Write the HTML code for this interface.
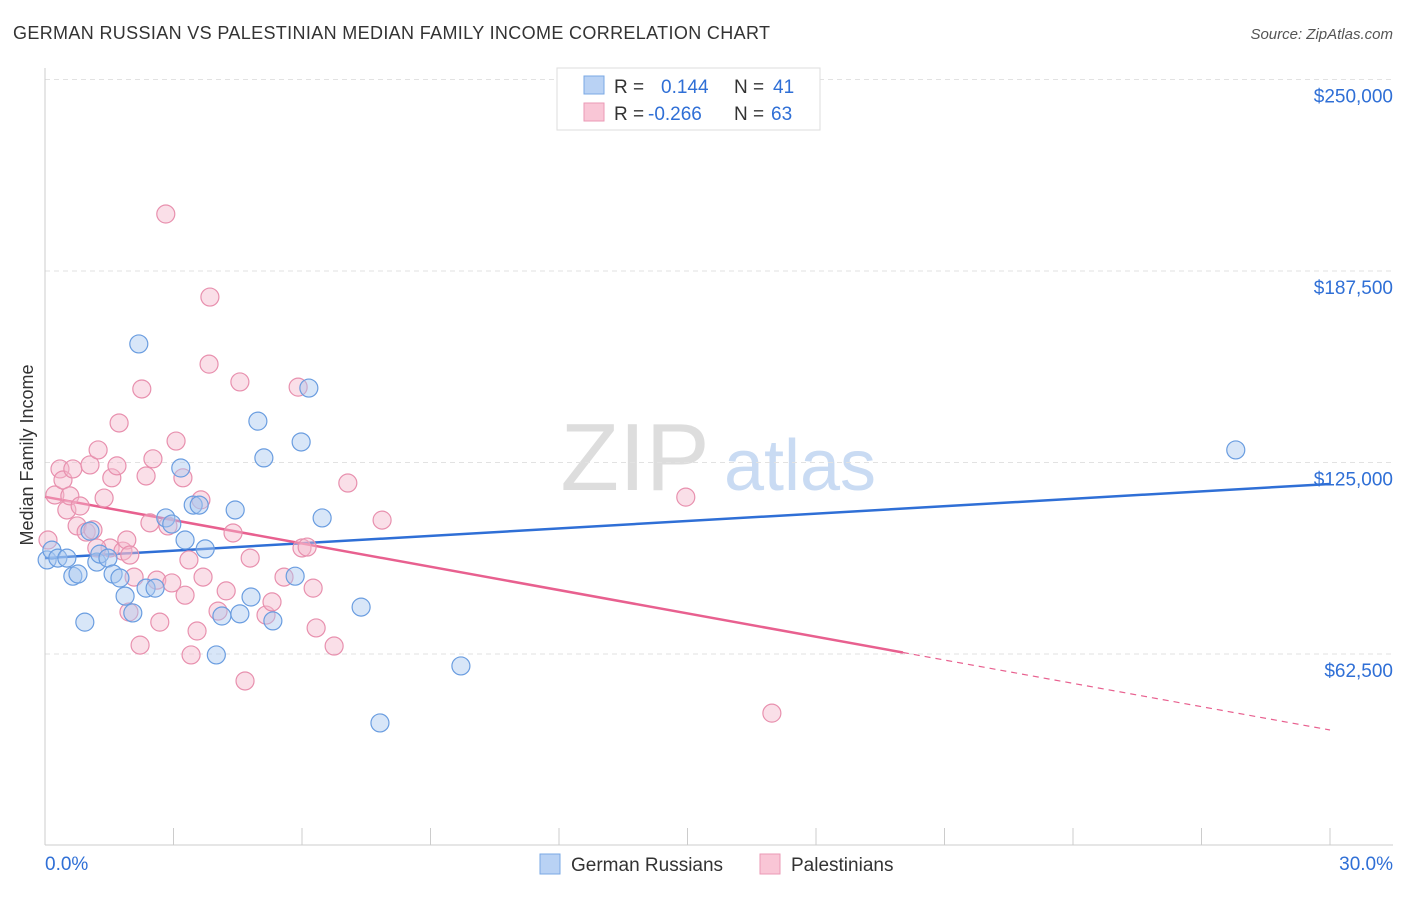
<!DOCTYPE html>
<html><head><meta charset="utf-8"><style>
body{margin:0;background:#fff;font-family:"Liberation Sans",sans-serif}
svg text{font-family:"Liberation Sans",sans-serif}
</style></head><body>
<svg id="chart" width="1406" height="892">
<text x="13" y="39" font-size="18" fill="#333" textLength="757">GERMAN RUSSIAN VS PALESTINIAN MEDIAN FAMILY INCOME CORRELATION CHART</text>
<text x="1393" y="39" font-size="15" fill="#555" font-style="italic" text-anchor="end">Source: ZipAtlas.com</text>
<g>
<text x="635" y="490" font-size="96" fill="#ddd" font-family="Liberation Serif" text-anchor="middle">ZIP</text>
<text x="800" y="490" font-size="72" fill="#c9dbf3" text-anchor="middle">atlas</text>
</g>
<text x="33" y="455" font-size="18" fill="#333" text-anchor="middle" transform="rotate(-90 33 455)">Median Family Income</text>
<g id="grid"></g><g id="axes"></g><g id="trend"></g><g id="pts"></g>
<g>
<rect x="557" y="68" width="263" height="62" fill="#fff" stroke="#ddd"/>
<rect x="584" y="76" width="20" height="18" fill="#b9d2f4" stroke="#7aa8e4"/>
<rect x="584" y="103" width="20" height="18" fill="#f9c6d6" stroke="#eb9ab6"/>
<text x="614" y="93" font-size="19" fill="#333">R = </text><text x="661" y="93" font-size="19" fill="#2f6fd6">0.144</text>
<text x="734" y="93" font-size="19" fill="#333">N = </text><text x="773" y="93" font-size="19" fill="#2f6fd6">41</text>
<text x="614" y="120" font-size="19" fill="#333">R = </text><text x="648" y="120" font-size="19" fill="#2f6fd6">-0.266</text>
<text x="734" y="120" font-size="19" fill="#333">N = </text><text x="771" y="120" font-size="19" fill="#2f6fd6">63</text>
</g>
<g>
<rect x="540" y="854" width="20" height="20" fill="#b9d2f4" stroke="#7aa8e4"/>
<text x="571" y="871" font-size="19" fill="#333">German Russians</text>
<rect x="760" y="854" width="20" height="20" fill="#f9c6d6" stroke="#eb9ab6"/>
<text x="791" y="871" font-size="19" fill="#333">Palestinians</text>
</g>
</svg>
<script>
const yTicks=[62500,125000,187500,250000];
const yTickLabels=["$62,500","$125,000","$187,500","$250,000"];
const xTicks=[0,3,6,9,12,15,18,21,24,27,30];
const blueX=[0.05,0.16,0.30,0.51,0.65,0.77,0.93,1.05,1.21,1.28,1.47,1.59,1.75,1.87,2.05,2.19,2.36,2.57,2.82,2.96,3.17,3.27,3.46,3.60,3.74,4.00,4.13,4.44,4.55,4.81,5.11,4.97,5.32,5.84,5.98,6.16,6.47,7.38,7.82,9.71,27.80];
const blueY=[93.2,96.4,93.8,93.8,87.9,88.6,72.9,102.6,92.5,95.1,93.8,88.6,87.3,81.4,75.9,163.7,84.0,84.0,106.9,104.9,123.2,99.7,111.1,111.1,96.8,62.2,74.9,109.5,75.6,81.1,126.5,138.5,73.3,87.9,131.7,149.3,106.9,77.8,40.0,58.6,129.1];
const pinkX=[0.07,0.23,0.35,0.42,0.51,0.58,0.65,0.75,0.82,0.96,1.05,1.12,1.24,1.38,1.52,1.56,1.68,1.73,1.82,1.91,1.96,2.08,2.22,2.26,2.36,2.45,2.52,2.61,2.68,2.82,2.87,2.96,3.06,3.22,3.27,3.36,3.41,3.55,3.64,3.69,3.83,3.85,4.04,4.23,4.39,4.55,4.67,4.79,5.16,5.30,5.58,5.91,6.00,6.12,6.26,6.33,6.75,7.07,7.87,14.96,16.97,1.21,1.98];
const pinkY=[99.7,114.4,122.9,119.3,109.5,114.1,122.9,104.3,110.8,102.3,124.2,103.0,129.1,113.4,97.1,120.0,123.9,137.9,96.1,99.7,76.2,87.6,65.4,149.0,120.6,105.3,126.2,86.6,72.9,206.1,104.3,85.7,132.0,120.0,81.7,93.2,62.2,70.0,112.8,87.6,157.1,179.0,76.5,83.1,102.0,151.3,53.7,93.8,75.2,79.5,87.6,149.6,97.1,97.4,84.0,71.0,65.1,118.3,106.2,113.7,43.2,97.1,94.8];
const blueTrend=[93.8,118.0];
const pinkTrend=[113.8,37.7];
const pinkSolidEnd=20.03;
const NS="http://www.w3.org/2000/svg";
const sx=v=>45+v/30*1285;
const sy=v=>845.5-v/62.5*191.5;
function mk(tag,attrs,parent){const e=document.createElementNS(NS,tag);for(const k in attrs)e.setAttribute(k,attrs[k]);document.getElementById(parent).appendChild(e);return e;}
yTicks.forEach((t,i)=>{
 const g=mk('line',{x1:45,x2:1393,y1:sy(t/1000),y2:sy(t/1000),stroke:'#e2e2e2','stroke-dasharray':'5,4'},'grid');
 
 
 const l=mk('text',{x:1393,y:sy(t/1000)+23,'font-size':19,fill:'#2f6fd6','text-anchor':'end'},'grid');
 l.textContent=yTickLabels[i];
 
 
});
const ya=mk('line',{x1:45,x2:45,y1:68,y2:845,stroke:'#ccc'},'axes');


const xa=mk('line',{x1:45,x2:1393,y1:845,y2:845,stroke:'#ccc'},'axes');


xTicks.forEach(t=>{
 const tk=mk('line',{x1:sx(t),x2:sx(t),y1:828,y2:845,stroke:'#ccc'},'axes');
 
 
});
const xl0=mk('text',{x:45,y:870,'font-size':19,fill:'#2f6fd6'},'axes');xl0.textContent='0.0%';


const xl1=mk('text',{x:1393,y:870,'font-size':19,fill:'#2f6fd6','text-anchor':'end'},'axes');xl1.textContent='30.0%';


function dot(x,y,fill,stroke,name){
 const c=mk('circle',{cx:sx(x),cy:sy(y),r:9,fill:fill,'fill-opacity':0.45,stroke:stroke,'stroke-width':1.2},'pts');
 
 
}
pinkX.forEach((x,i)=>dot(x,pinkY[i],'#f4b8cb','#e890ae','palestinian-point'));
blueX.forEach((x,i)=>dot(x,blueY[i],'#a9c8f0','#6a9de0','german-russian-point'));
const bt=mk('line',{x1:sx(0),y1:sy(blueTrend[0]),x2:sx(30),y2:sy(blueTrend[1]),stroke:'#2f6fd6','stroke-width':2.5},'trend');


const pm=pinkTrend[0]+(pinkTrend[1]-pinkTrend[0])*pinkSolidEnd/30;
const pt=mk('line',{x1:sx(0),y1:sy(pinkTrend[0]),x2:sx(pinkSolidEnd),y2:sy(pm),stroke:'#e8608f','stroke-width':2.5},'trend');


const pd=mk('line',{x1:sx(pinkSolidEnd),y1:sy(pm),x2:sx(30),y2:sy(pinkTrend[1]),stroke:'#e8608f','stroke-width':1.2,'stroke-dasharray':'6,5'},'trend');


</script>
</body></html>
